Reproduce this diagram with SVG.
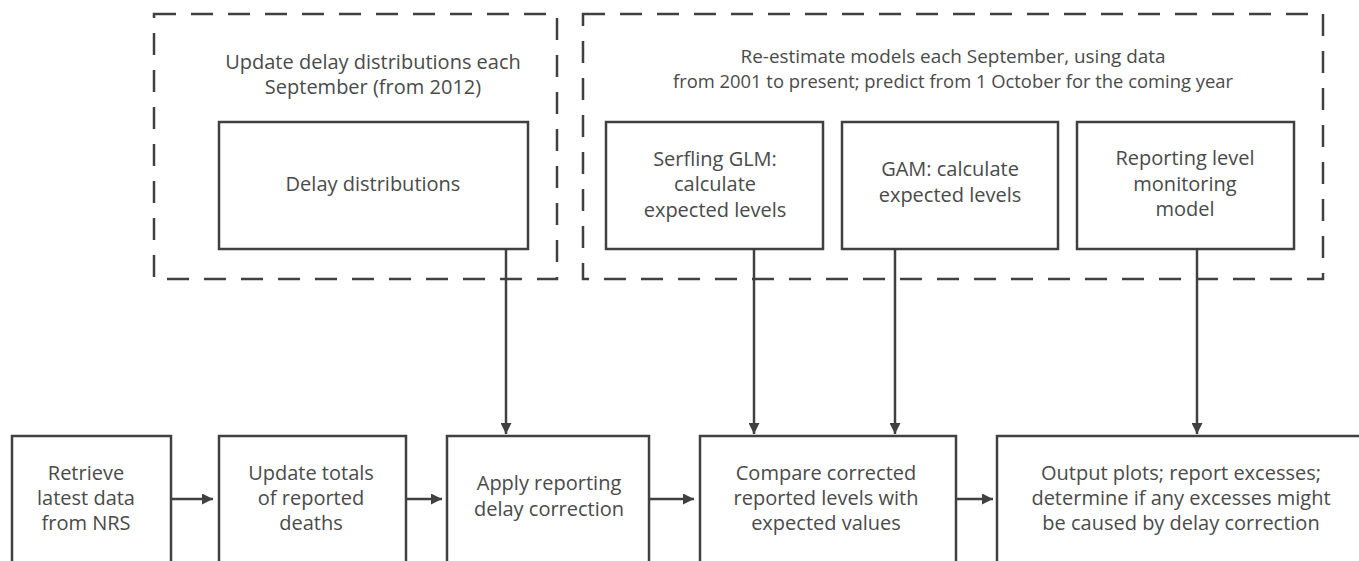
<svg xmlns="http://www.w3.org/2000/svg" width="1359" height="561" viewBox="0 0 1359 561">
<style>
  .box { fill: #ffffff; stroke: #404040; stroke-width: 2.5; }
  .group { fill: none; stroke: #404040; stroke-width: 2.5; stroke-dasharray: 22 15; }
  .conn { fill: none; stroke: #404040; stroke-width: 2.5; }
  text { font-family: "Open Sans", "Liberation Sans", sans-serif; font-size: 20px; fill: #4a4a4a; text-anchor: middle; }
  .tight { font-size: 19px; }
</style>
<defs>
  <marker id="arrow" viewBox="0 0 10 10" refX="10" refY="5" markerWidth="11" markerHeight="11" markerUnits="userSpaceOnUse" orient="auto">
    <path d="M0,0 L10,5 L0,10 Z" fill="#404040"/>
  </marker>
</defs>
<rect width="1359" height="561" fill="#ffffff"/>

<g id="group-delay">
  <rect class="group" x="154" y="14" width="403" height="265"/>
  <text x="373" y="69">Update delay distributions each</text>
  <text x="373" y="94">September (from 2012)</text>
</g>
<g id="group-models">
  <rect class="group" x="583" y="14" width="740" height="265"/>
  <text class="tight" x="953" y="63" textLength="425" lengthAdjust="spacingAndGlyphs">Re-estimate models each September, using data</text>
  <text class="tight" x="953" y="88" textLength="560" lengthAdjust="spacingAndGlyphs">from 2001 to present; predict from 1 October for the coming year</text>
</g>

<g id="node-delay">
  <rect class="box" x="219" y="122" width="309" height="127"/>
  <text x="373" y="191">Delay distributions</text>
</g>
<g id="node-serfling">
  <rect class="box" x="606" y="122" width="217" height="127"/>
  <text x="715" y="166">Serfling GLM:</text>
  <text x="715" y="191">calculate</text>
  <text x="715" y="217">expected levels</text>
</g>
<g id="node-gam">
  <rect class="box" x="842" y="122" width="216" height="127"/>
  <text x="950" y="176">GAM: calculate</text>
  <text x="950" y="202">expected levels</text>
</g>
<g id="node-reporting">
  <rect class="box" x="1077" y="122" width="217" height="127"/>
  <text x="1185" y="165">Reporting level</text>
  <text x="1185" y="191">monitoring</text>
  <text x="1185" y="216">model</text>
</g>

<g id="node-retrieve">
  <rect class="box" x="12" y="436" width="159" height="140"/>
  <text x="86" y="480">Retrieve</text>
  <text x="86" y="505">latest data</text>
  <text x="86" y="530">from NRS</text>
</g>
<g id="node-update">
  <rect class="box" x="219" y="436" width="187" height="140"/>
  <text x="311" y="480">Update totals</text>
  <text x="311" y="505">of reported</text>
  <text x="311" y="530">deaths</text>
</g>
<g id="node-apply">
  <rect class="box" x="447" y="436" width="202" height="140"/>
  <text x="549" y="490">Apply reporting</text>
  <text x="549" y="516">delay correction</text>
</g>
<g id="node-compare">
  <rect class="box" x="700" y="436" width="256" height="140"/>
  <text x="826" y="480">Compare corrected</text>
  <text x="826" y="505">reported levels with</text>
  <text x="826" y="530">expected values</text>
</g>
<g id="node-output">
  <rect class="box" x="997" y="436" width="380" height="140"/>
  <text x="1181" y="480">Output plots; report excesses;</text>
  <text x="1181" y="505">determine if any excesses might</text>
  <text x="1181" y="530">be caused by delay correction</text>
</g>

<g id="connectors">
  <line class="conn" x1="506" y1="249" x2="506" y2="434" marker-end="url(#arrow)"/>
  <line class="conn" x1="754" y1="249" x2="754" y2="434" marker-end="url(#arrow)"/>
  <line class="conn" x1="895" y1="249" x2="895" y2="434" marker-end="url(#arrow)"/>
  <line class="conn" x1="1197" y1="249" x2="1197" y2="434" marker-end="url(#arrow)"/>
  <line class="conn" x1="171" y1="499" x2="213" y2="499" marker-end="url(#arrow)"/>
  <line class="conn" x1="406" y1="499" x2="442" y2="499" marker-end="url(#arrow)"/>
  <line class="conn" x1="649" y1="499" x2="694" y2="499" marker-end="url(#arrow)"/>
  <line class="conn" x1="956" y1="499" x2="993" y2="499" marker-end="url(#arrow)"/>
</g>
</svg>
